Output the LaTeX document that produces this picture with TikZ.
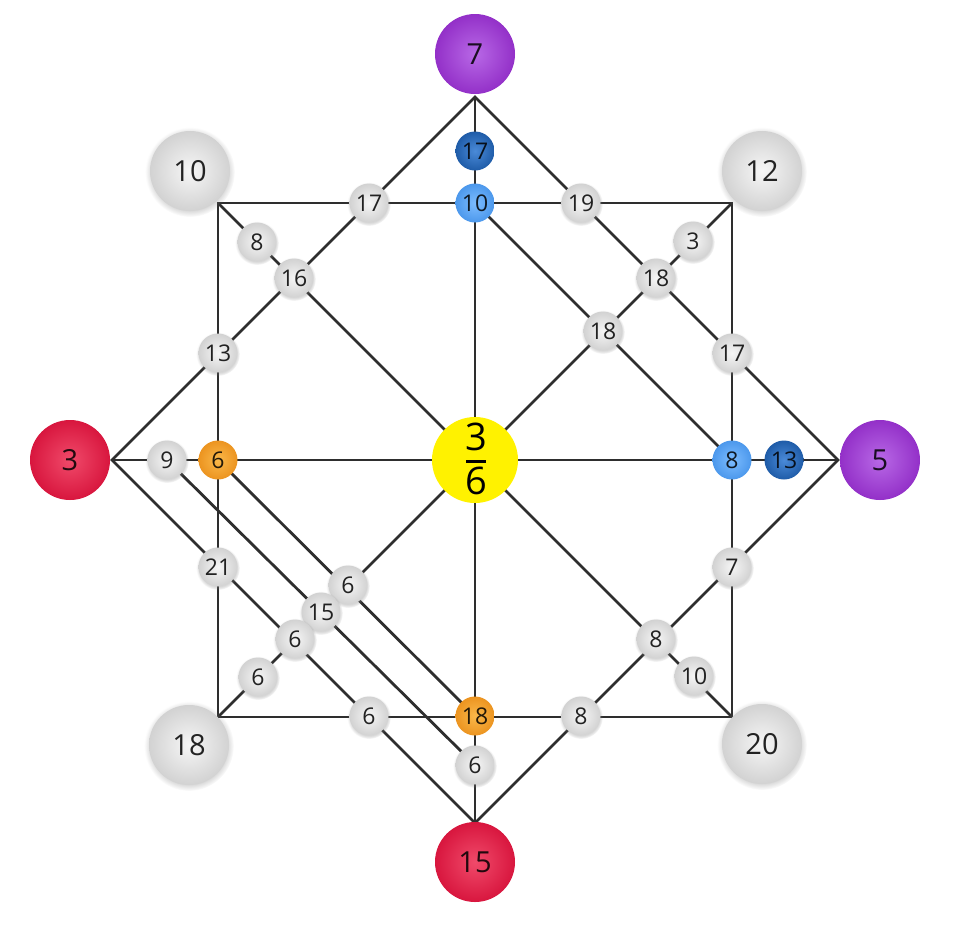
\documentclass[tikz,border=0pt]{standalone}
\usepackage{fontspec}
\setmainfont{Open Sans}
\usetikzlibrary{shadows}
\pgfdeclarelayer{background}
\pgfsetlayers{background,main}
\definecolor{lineC}{HTML}{2E2E2E}
\definecolor{grIn}{HTML}{F6F6F6}
\definecolor{grOut}{HTML}{D2D2D2}
\definecolor{puIn}{HTML}{B868E6}
\definecolor{puOut}{HTML}{9330C8}
\definecolor{reIn}{HTML}{F04A6A}
\definecolor{reOut}{HTML}{D8163E}
\definecolor{orIn}{HTML}{FAB84A}
\definecolor{orOut}{HTML}{EC9420}
\definecolor{lbIn}{HTML}{7CBCFF}
\definecolor{lbOut}{HTML}{4C98EC}
\definecolor{dbIn}{HTML}{4A8AD8}
\definecolor{dbOut}{HTML}{1F5CA8}
\definecolor{yel}{HTML}{FFF200}
\tikzset{
  ball/.style={circle, inner sep=0pt, text=black, text opacity=0.85},
  sm/.style={ball, minimum size=39pt, font=\fontsize{23}{23}\selectfont},
  bg/.style={ball, minimum size=80pt, font=\fontsize{29}{29}\selectfont},
  halo/.style={circular drop shadow={shadow xshift=0pt, shadow yshift=-1pt, shadow scale=1.12, opacity=0.3}},
  grey/.style={shade, inner color=grIn, outer color=grOut, halo},
  purp/.style={shade, inner color=puIn, outer color=puOut},
  redb/.style={shade, inner color=reIn, outer color=reOut},
  oran/.style={shade, inner color=orIn, outer color=orOut},
  lblu/.style={shade, inner color=lbIn, outer color=lbOut},
  dblu/.style={shade, inner color=dbIn, outer color=dbOut},
  edge/.style={draw=lineC, line width=2.8pt},
}
\begin{document}
\begin{tikzpicture}[x=1pt,y=-1pt]
\useasboundingbox (0,0) rectangle (964,927);
% structural points
\coordinate (C) at (475,460);
\coordinate (T) at (475,97);
\coordinate (B) at (475,823);
\coordinate (L) at (112,460);
\coordinate (R) at (838,460);
\coordinate (TL) at (218,203);
\coordinate (TR) at (732,203);
\coordinate (BL) at (218,717);
\coordinate (BR) at (732,717);
% big outer balls
\node[bg, purp] (b7) at (475,54) {7};
\node[bg, purp] (b5) at (880,460) {5};
\node[bg, redb] (b3) at (70,460) {3};
\node[bg, redb] (b15) at (475,862) {15};
\node[bg, grey] (b10) at (190,171) {10};
\node[bg, grey] (b12) at (762,171) {12};
\node[bg, grey] (b18) at (189,745) {18};
\node[bg, grey] (b20) at (762,744) {20};
% center
\node[circle, fill=yel, minimum size=86pt, inner sep=0pt] (ctr) at (C) {};
\node[font=\fontsize{38}{38}\selectfont, inner sep=0pt] (num) at (476,437) {3};
\node[font=\fontsize{38}{38}\selectfont, inner sep=0pt] (den) at (476,481) {6};
\draw[line width=3pt] (466,461) -- (486,461);
% top part
\node[sm, dblu] (n17d) at (475,151) {17};
\node[sm, lblu] (n10b) at (475,203) {10};
\node[sm, grey] (n17) at (369,203) {17};
\node[sm, grey] (n19) at (581,203) {19};
\node[sm, grey] (n8a) at (257,242) {8};
\node[sm, grey] (n16) at (294,278) {16};
\node[sm, grey] (n3) at (693,241) {3};
\node[sm, grey] (n18a) at (656,278) {18};
\node[sm, grey] (n18b) at (603,331) {18};
\node[sm, grey] (n13) at (218,353) {13};
\node[sm, grey] (n17r) at (732,353) {17};
% middle row
\node[sm, grey] (n9) at (167,460) {9};
\node[sm, oran] (n6o) at (218,460) {6};
\node[sm, lblu] (n8b) at (732,460) {8};
\node[sm, dblu] (n13d) at (784,460) {13};
% lower part
\node[sm, grey] (n21) at (218,567) {21};
\node[sm, grey] (n7) at (732,567) {7};
\node[sm, grey] (n6a) at (348,585) {6};
\node[sm, grey] (n15) at (321,612) {15};
\node[sm, grey] (n6b) at (295,639) {6};
\node[sm, grey] (n6c) at (258,677) {6};
\node[sm, grey] (n8c) at (656,639) {8};
\node[sm, grey] (n10) at (694,676) {10};
\node[sm, grey] (n6d) at (369,716) {6};
\node[sm, oran] (n18o) at (475,716) {18};
\node[sm, grey] (n8d) at (581,716) {8};
\node[sm, grey] (n6e) at (475,765) {6};
\begin{pgfonlayer}{background}
\fill[white] (0,0) rectangle (964,927);
% square
\draw[edge] (TL) -- (TR) -- (BR) -- (BL) -- cycle;
% diamond
\draw[edge] (T) -- (R) -- (B) -- (L) -- cycle;
% axes
\draw[edge] (T) -- (B);
\draw[edge] (L) -- (R);
% diagonals
\draw[edge] (TL) -- (BR);
\draw[edge] (TR) -- (BL);
% inner chords
\draw[edge] (n10b.center) -- (n8b.center);
\draw[edge] (n6o.center) -- (n18o.center);
\draw[edge] (n9.center) -- (n6e.center);
\end{pgfonlayer}
\end{tikzpicture}
\end{document}
